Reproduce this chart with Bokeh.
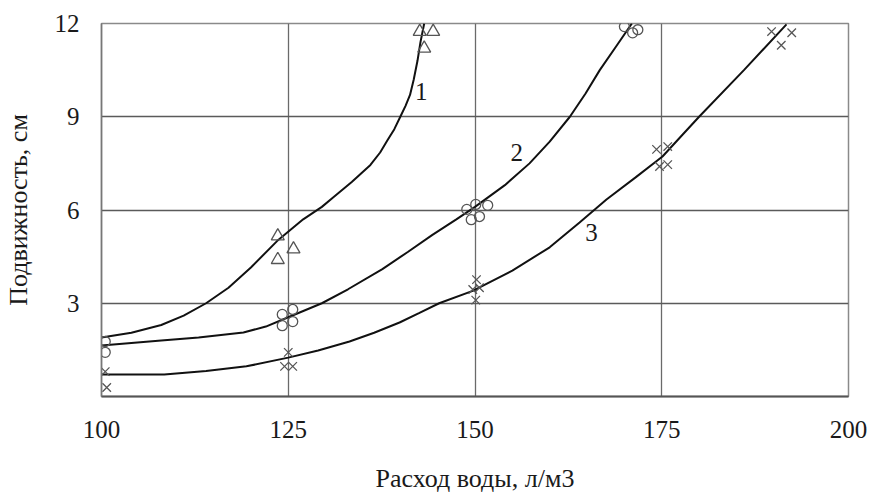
from bokeh.plotting import figure
from bokeh.models import Range1d, FixedTicker, ColumnDataSource
from bokeh.core.properties import value
from bokeh.embed import file_html
from bokeh.resources import INLINE

# Fitted curves
c1_x = [100, 104, 108, 111, 114, 117, 120, 123.5, 127, 129.5, 131, 133.5, 136, 137.3, 138.3, 139.2,
        140, 140.7, 141.3, 141.8, 142.3, 142.7, 143.2]
c1_y = [1.9, 2.05, 2.3, 2.6, 3.0, 3.5, 4.15, 5.0, 5.7, 6.1, 6.4, 6.9, 7.45, 7.85, 8.25, 8.6,
        9.0, 9.35, 9.7, 10.2, 10.8, 11.4, 12.0]
c2_x = [100, 104, 108, 113, 119, 122, 125, 129.5, 133, 137.6, 141, 144.3, 147.5, 150, 154, 157.3,
        160, 162.7, 164.8, 166.7, 169, 171]
c2_y = [1.64, 1.72, 1.8, 1.9, 2.06, 2.25, 2.55, 3.0, 3.45, 4.1, 4.65, 5.2, 5.7, 6.1, 6.8, 7.5,
        8.2, 9.0, 9.75, 10.5, 11.3, 12.0]
c3_x = [100, 108.4, 114, 119.4, 125, 129, 133.2, 136.5, 139.9, 142.5, 145.2, 149.7, 155, 160, 164,
        167.6, 171.5, 175.1, 177.5, 180, 186, 191.7]
c3_y = [0.71, 0.71, 0.82, 0.97, 1.25, 1.48, 1.77, 2.05, 2.38, 2.68, 3.0, 3.4, 4.05, 4.8, 5.6,
        6.34, 7.05, 7.72, 8.35, 9.0, 10.5, 11.97]

# Measured points
s1_x = [123.6, 123.6, 125.7, 142.6, 144.4, 143.2]
s1_y = [5.16, 4.4, 4.74, 11.74, 11.74, 11.2]
s2_x = [100.5, 100.5, 124.2, 125.6, 124.2, 125.6, 148.9, 150.1, 151.7, 149.5, 150.6, 170.0, 171.1, 171.8]
s2_y = [1.77, 1.42, 2.64, 2.80, 2.28, 2.41, 6.02, 6.18, 6.15, 5.69, 5.79, 11.9, 11.7, 11.8]
s3_x = [100.5, 100.7, 125.0, 124.5, 125.6, 150.2, 149.7, 150.6, 150.1, 174.3, 175.8, 174.7, 175.8, 189.7, 192.4, 191.0]
s3_y = [0.8, 0.29, 1.42, 0.97, 0.97, 3.76, 3.44, 3.5, 3.1, 7.95, 8.04, 7.4, 7.46, 11.74, 11.7, 11.3]

# Curve labels
lab_x = [142.8, 155.6, 165.6]
lab_y = [9.8, 7.85, 5.28]
lab_t = ["1", "2", "3"]

x_ticks = [100, 125, 150, 175, 200]
y_ticks = [3, 6, 9, 12]

FONT = "Liberation Serif"

p = figure(frame_width=747, frame_height=373, output_backend="svg", toolbar_location=None,
           x_range=Range1d(100, 200), y_range=Range1d(0, 12),
           min_border_left=94, min_border_right=20, min_border_top=23, min_border_bottom=92)

p.background_fill_color = "white"
p.border_fill_color = "white"
p.outline_line_color = "#8a8a8a"
p.outline_line_width = 1.5

for ax in (p.xaxis[0], p.yaxis[0]):
    ax.major_tick_line_color = None
    ax.minor_tick_line_color = None
    ax.major_label_text_font = FONT
    ax.major_label_text_font_size = "25px"
    ax.major_label_text_color = "#1a1a1a"
    ax.axis_label_text_font = FONT
    ax.axis_label_text_font_size = "26px"
    ax.axis_label_text_font_style = "normal"
    ax.axis_label_text_color = "#1a1a1a"

p.xaxis[0].ticker = FixedTicker(ticks=x_ticks)
p.yaxis[0].ticker = FixedTicker(ticks=y_ticks)
p.xaxis[0].axis_line_color = "#555555"
p.xaxis[0].axis_line_width = 2
p.yaxis[0].axis_line_color = "#777777"
p.yaxis[0].axis_line_width = 1.5
p.xaxis[0].major_label_standoff = 18
p.yaxis[0].major_label_standoff = 16
p.xaxis[0].axis_label = "Расход воды, л/м3"
p.yaxis[0].axis_label = "Подвижность, см"
p.xaxis[0].axis_label_standoff = 23
p.yaxis[0].axis_label_standoff = 19

p.xgrid.ticker = FixedTicker(ticks=[125, 150, 175])
p.ygrid.ticker = FixedTicker(ticks=[3, 6, 9])
p.xgrid.grid_line_color = "#6a6a6a"
p.ygrid.grid_line_color = "#5a5a5a"
p.xgrid.grid_line_width = 1.3
p.ygrid.grid_line_width = 1.3

p.line(c1_x, c1_y, line_color="#111111", line_width=2)
p.line(c2_x, c2_y, line_color="#111111", line_width=2)
p.line(c3_x, c3_y, line_color="#111111", line_width=2)

p.scatter(s1_x, s1_y, marker="triangle", size=13, fill_color=None, line_color="#555555", line_width=1.3)
p.scatter(s2_x, s2_y, marker="circle", size=10, fill_color=None, line_color="#555555", line_width=1.3)
p.scatter(s3_x, s3_y, marker="x", size=12, line_color="#555555", line_width=1.3)

src = ColumnDataSource(dict(x=lab_x, y=lab_y, t=lab_t))
p.text(x="x", y="y", text="t", source=src, text_font=value(FONT), text_font_size="25px",
       text_align="center", text_baseline="middle", text_color="#1a1a1a")

open("out.html", "w").write(file_html(p, INLINE))
